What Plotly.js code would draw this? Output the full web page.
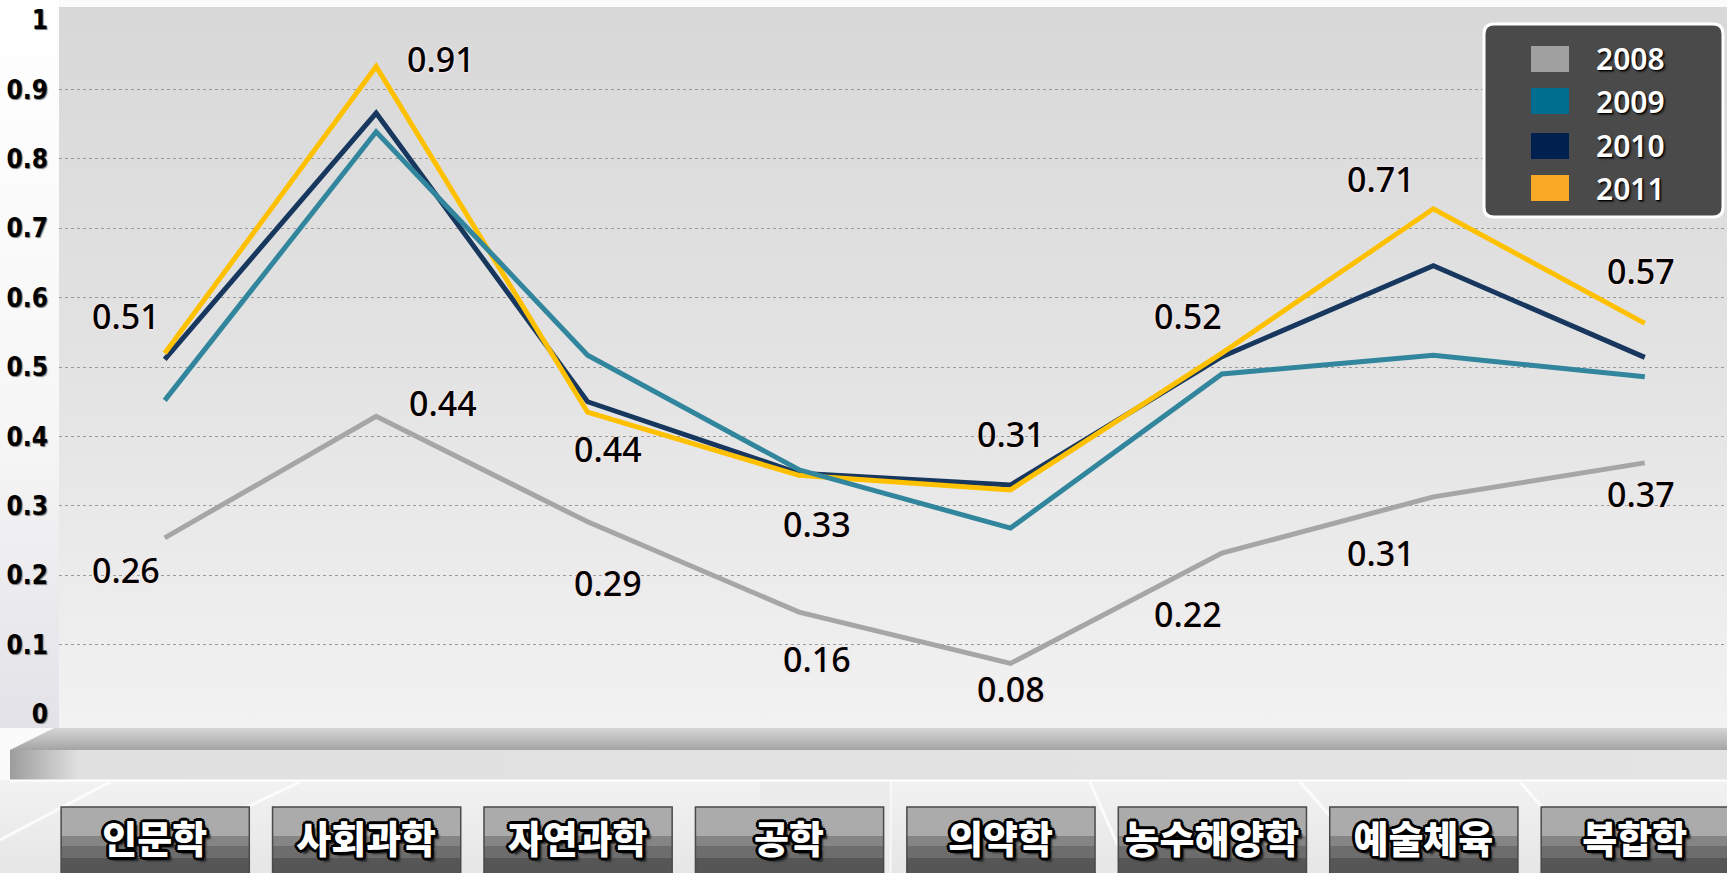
<!DOCTYPE html>
<html>
<head>
<meta charset="utf-8">
<script src="https://cdn.plot.ly/plotly-3.0.1.min.js"></script>
<style>html,body{margin:0;padding:0;background:#f3f3f3;overflow:hidden}#chart{width:1727px;height:873px}</style>
</head>
<body>
<div id="chart"></div>
<script>
// ---- data ----
const categories = ['인문학','사회과학','자연과학','공학','의약학','농수해양학','예술체육','복합학'];
const seriesNames = ['2008','2009','2010','2011'];
const values2008 = [0.254, 0.429, 0.277, 0.147, 0.073, 0.232, 0.313, 0.362];
const values2009 = [0.452, 0.839, 0.517, 0.352, 0.268, 0.490, 0.517, 0.486];
const values2010 = [0.511, 0.866, 0.450, 0.347, 0.330, 0.515, 0.646, 0.514];
const values2011 = [0.520, 0.933, 0.435, 0.344, 0.323, 0.520, 0.728, 0.563];
const labels2008 = ['0.26','0.44','0.29','0.16','0.08','0.22','0.31','0.37'];
const labels2011 = ['0.51','0.91','0.44','0.33','0.31','0.52','0.71','0.57'];

// ---- styling ----
const W = 1727, H = 873;
const ML = 59, MT = 20, MB = 145;
const PW = W - ML, PH = H - MT - MB;
const X = px => (px - ML) / PW;
const Y = py => (H - MB - py) / PH;

const lineColors = {'2008':'#a6a6a6','2009':'#31859c','2010':'#17375e','2011':'#ffc000'};
const swatchColors = {'2008':'#a0a0a0','2009':'#006e8f','2010':'#002050','2011':'#f9a825'};
const seriesValues = {'2008':values2008,'2009':values2009,'2010':values2010,'2011':values2011};
const drawOrder = ['2008','2010','2011','2009'];

const traces = drawOrder.map(name => ({
  type:'scatter', mode:'lines', name:name,
  x: categories, y: seriesValues[name],
  line:{color:lineColors[name], width:5},
  hoverinfo:'skip'
}));

// label offsets [xshift, yshift] (styling)
const off2011 = [[-39,37],[65,8],[20,-37],[18,-49],[1,56],[-34,37],[-52,30],[-4,52]];
const off2008 = [[-39,-32],[67,13],[20,-61],[18,-47],[1,-26],[-34,-61],[-52,-56],[-4,-31]];
const labelFont = {family:'Noto Sans, sans-serif', size:34, weight:500, color:'#000',
  shadow:'0 0 3px #fbe8e8, 0 0 2px #fbe8e8, 1px 1px 2px #f3dede'};
const annotations = [];
categories.forEach((c,i)=>{
  annotations.push({x:c, y:values2011[i], xref:'x', yref:'y', text:labels2011[i], showarrow:false,
    xanchor:'center', yanchor:'middle', xshift:off2011[i][0], yshift:off2011[i][1], font:labelFont});
  annotations.push({x:c, y:values2008[i], xref:'x', yref:'y', text:labels2008[i], showarrow:false,
    xanchor:'center', yanchor:'middle', xshift:off2008[i][0], yshift:off2008[i][1], font:labelFont});
});

// ---- legend (manual) ----
const shapes = [];
function rrPath(x0,y0,x1,y1,r){
  const a=X(x0),b=X(x1),rx=r/PW,ry=r/PH,t=Y(y0),u=Y(y1);
  return `M${a+rx},${t} L${b-rx},${t} Q${b},${t} ${b},${t-ry} L${b},${u+ry} Q${b},${u} ${b-rx},${u} L${a+rx},${u} Q${a},${u} ${a},${u+ry} L${a},${t-ry} Q${a},${t} ${a+rx},${t} Z`;
}
shapes.push({type:'path', xref:'paper', yref:'paper', path:rrPath(1484,24,1723,217,10),
  fillcolor:'#4a4a4a', line:{color:'#ffffff', width:3}, layer:'above'});
const legendRowY = [59, 101, 146, 188];
seriesNames.forEach((n,k)=>{
  const cy = legendRowY[k];
  shapes.push({type:'rect', xref:'paper', yref:'paper', x0:X(1531), x1:X(1569), y0:Y(cy+13), y1:Y(cy-13),
    fillcolor:swatchColors[n], line:{width:0}, layer:'above'});
  annotations.push({xref:'paper', yref:'paper', x:X(1594), y:Y(cy), text:n, showarrow:false,
    xanchor:'left', yanchor:'middle',
    font:{family:'Noto Sans, sans-serif', size:30, weight:600, color:'#ffffff', shadow:'1px 1px 1px #000, 2px 2px 2px #222'}});
});

// ---- category boxes ----
categories.forEach((c,i)=>{
  const x0 = i - 0.49, x1 = i + 0.40;
  const bands = [[807,836,'#ababab'],[836,846,'#858585'],[846,858,'#6d6d6d'],[858,880,'#565656']];
  bands.forEach(b=>shapes.push({type:'rect', xref:'x', yref:'paper', x0:x0, x1:x1, y0:Y(b[1]), y1:Y(b[0]),
    fillcolor:b[2], line:{width:0}, layer:'below'}));
  shapes.push({type:'rect', xref:'x', yref:'paper', x0:x0, x1:x1, y0:Y(880), y1:Y(807),
    fillcolor:'rgba(0,0,0,0)', line:{color:'#4a4a4a', width:1.5}, layer:'below'});
});

// ---- background decoration ----
const svg = `<svg xmlns='http://www.w3.org/2000/svg' width='${W}' height='${H}' viewBox='0 0 ${W} ${H}'>
<defs>
<linearGradient id='pg' x1='0' y1='0' x2='0' y2='1'><stop offset='0' stop-color='#d8d8d8'/><stop offset='0.5' stop-color='#e3e3e3'/><stop offset='1' stop-color='#f2f2f2'/></linearGradient>
<linearGradient id='lg' x1='0' y1='0' x2='0' y2='1'><stop offset='0' stop-color='#ffffff'/><stop offset='0.6' stop-color='#f6f6f6'/><stop offset='1' stop-color='#e2e2e8'/></linearGradient>
<linearGradient id='tg' x1='0' y1='0' x2='0' y2='1'><stop offset='0' stop-color='#d6d6d6'/><stop offset='1' stop-color='#a4a4a4'/></linearGradient>
<linearGradient id='fg' x1='0' y1='0' x2='1' y2='0'><stop offset='0' stop-color='#9c9c9c'/><stop offset='0.04' stop-color='#e0e0e0'/><stop offset='1' stop-color='#e4e4e4'/></linearGradient>
<linearGradient id='bg' x1='0' y1='0' x2='0' y2='1'><stop offset='0' stop-color='#f2f2f2'/><stop offset='1' stop-color='#e6e6e6'/></linearGradient>
</defs>
<rect width='${W}' height='${H}' fill='#fbfbfb'/>
<rect x='0' y='0' width='59' height='728' fill='url(#lg)'/>
<rect x='59' y='7' width='1668' height='721' fill='url(#pg)'/>
<rect x='0' y='780' width='${W}' height='93' fill='url(#bg)'/>
<g stroke='#ffffff' stroke-width='3' opacity='0.8' fill='none'>
<line x1='0' y1='840' x2='110' y2='782'/><line x1='230' y1='815' x2='300' y2='782'/>
<line x1='890' y1='782' x2='890' y2='873'/><line x1='1090' y1='782' x2='1130' y2='873'/>
<line x1='1300' y1='782' x2='1380' y2='873'/><line x1='1520' y1='782' x2='1600' y2='873'/>
</g>
<rect x='760' y='782' width='130' height='91' fill='#ececec'/>
<polygon points='54,728 ${W},728 ${W},750 10,750' fill='url(#tg)'/>
<rect x='10' y='750' width='${W-10}' height='30' fill='url(#fg)'/>
<line x1='10' y1='780.5' x2='${W}' y2='780.5' stroke='#ffffff' stroke-width='2'/>
</svg>`;
const bgImage = {source:'data:image/svg+xml;charset=utf-8,' + encodeURIComponent(svg),
  xref:'paper', yref:'paper', x:-ML/PW, y:1 + MT/PH, sizex:W/PW, sizey:H/PH,
  sizing:'stretch', xanchor:'left', yanchor:'top', layer:'below'};

const layout = {
  width:W, height:H, autosize:false,
  margin:{l:ML, r:0, t:MT, b:MB, pad:0},
  paper_bgcolor:'#f3f3f3', plot_bgcolor:'rgba(0,0,0,0)',
  showlegend:false,
  images:[bgImage],
  xaxis:{type:'category', categoryorder:'array', categoryarray:categories,
    range:[-0.5, (W - 165) / 211.4], showgrid:false, zeroline:false, showline:false, ticks:'',
    ticklabelshift:-10, ticklabelstandoff:86, fixedrange:true,
    tickfont:{family:'Noto Sans CJK KR, sans-serif', size:38, weight:900, color:'#ffffff',
      shadow:'2px 0 0 #000, -2px 0 0 #000, 0 2px 0 #000, 0 -2px 0 #000, 2px 2px 0 #000, -2px -2px 0 #000, 2px -2px 0 #000, -2px 2px 0 #000, 3px 0 0 #000, 0 3px 0 #000, -3px 0 0 #000, 0 -3px 0 #000, 4px 4px 2px #222'}},
  yaxis:{range:[-0.02, 1.0], tickmode:'linear', tick0:0, dtick:0.1, showgrid:true,
    gridcolor:'#9a9a9a', griddash:'dot', gridwidth:1,
    zeroline:true, zerolinecolor:'rgba(0,0,0,0)', zerolinewidth:0, showline:false, ticks:'',
    ticklabelstandoff:10, fixedrange:true,
    tickfont:{family:"'Liberation Sans Narrow', 'DejaVu Sans Condensed', 'Roboto Condensed', sans-serif", size:26, weight:'bold', color:'#000', shadow:'1px 1px 1px #777'}},
  shapes:shapes,
  annotations:annotations
};
Plotly.newPlot('chart', traces, layout, {displayModeBar:false, staticPlot:true});
</script>
</body>
</html>
